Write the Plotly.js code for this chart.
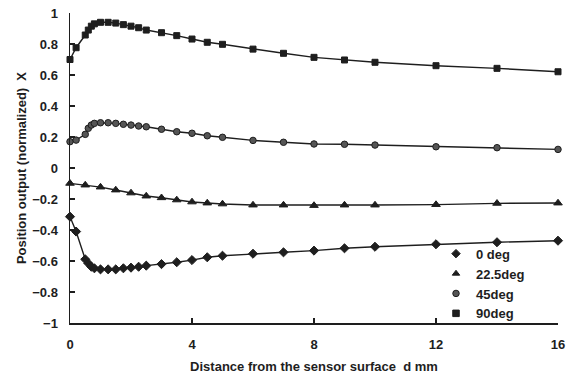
<!DOCTYPE html>
<html>
<head>
<meta charset="utf-8">
<script src="https://cdn.plot.ly/plotly-3.0.1.min.js"></script>
<style>html,body{margin:0;padding:0;background:#fff;}#chart{width:573px;height:382px;}</style>
</head>
<body>
<div id="chart"></div>
<script>
// Distance from the sensor surface (mm)
const dist = [0,0.2,0.5,0.6,0.7,0.8,1.0,1.25,1.5,1.75,2.0,2.25,2.5,3,3.5,4,4.5,5,6,7,8,9,10,12,14,16];
const distTri = [0,0.5,1,1.5,2,2.5,3,3.5,4,4.5,5,6,7,8,9,10,12,14,16];

// Position output (normalized) X
const deg0 = [-0.314,-0.41,-0.589,-0.615,-0.637,-0.647,-0.654,-0.654,-0.654,-0.647,-0.643,-0.637,-0.63,-0.62,-0.608,-0.594,-0.576,-0.566,-0.553,-0.544,-0.533,-0.518,-0.508,-0.492,-0.479,-0.469];
const deg22 = [-0.099,-0.11,-0.123,-0.142,-0.161,-0.181,-0.192,-0.206,-0.219,-0.226,-0.232,-0.239,-0.239,-0.242,-0.239,-0.239,-0.236,-0.228,-0.226];
const deg45 = [0.17,0.18,0.217,0.256,0.277,0.288,0.292,0.292,0.288,0.282,0.277,0.271,0.266,0.25,0.234,0.224,0.208,0.198,0.178,0.166,0.155,0.153,0.148,0.137,0.131,0.12];
const deg90 = [0.70,0.776,0.858,0.89,0.915,0.93,0.94,0.94,0.935,0.925,0.915,0.905,0.89,0.873,0.854,0.832,0.811,0.798,0.767,0.74,0.714,0.697,0.682,0.66,0.643,0.621];

const seriesNames = ['0 deg','22.5deg','45deg','90deg'];
const xTicks = [0,4,8,12,16];

const ink = '#1e1e1e';
const series = [
  {x: dist, y: deg0, sym: 'diamond', size: 7, fill: ink},
  {x: distTri, y: deg22, sym: 'triangle-up', size: 7.5, fill: ink},
  {x: dist, y: deg45, sym: 'circle', size: 6.5, fill: '#555'},
  {x: dist, y: deg90, sym: 'square', size: 6, fill: ink}
];

const traces = [];
series.forEach((s, i) => {
  traces.push({
    x: s.x, y: s.y, type: 'scatter', mode: 'lines+markers',
    line: {color: ink, width: 1.4},
    marker: {symbol: s.sym, size: s.size, color: s.fill, line: {color: ink, width: 1}},
    cliponaxis: false, showlegend: false, name: seriesNames[i]
  });
});
series.forEach((s, i) => {
  traces.push({
    x: [null], y: [null], type: 'scatter', mode: 'markers',
    marker: {symbol: s.sym, size: 6.5, color: s.fill, line: {color: ink, width: 1}},
    showlegend: true, name: seriesNames[i]
  });
});

const layout = {
  width: 573, height: 382,
  margin: {l: 70, r: 15, t: 13, b: 59},
  paper_bgcolor: '#fff', plot_bgcolor: '#fff',
  font: {family: 'Liberation Sans, Arial, sans-serif', color: ink, size: 13},
  showlegend: true,
  legend: {
    x: 0.75, y: 0.272, xanchor: 'left', yanchor: 'top',
    bgcolor: 'rgba(0,0,0,0)',
    font: {size: 13, family: 'Liberation Sans, Arial, sans-serif', weight: 'bold'},
    tracegroupgap: 0, itemwidth: 30
  },
  xaxis: {
    range: [0, 16], tickvals: xTicks, ticktext: xTicks.map(String),
    ticks: 'inside', ticklen: 5, tickwidth: 1.2, tickcolor: ink,
    showline: true, linecolor: ink, linewidth: 1.5,
    showgrid: false, zeroline: false,
    ticklabelstandoff: 9,
    tickfont: {size: 13, weight: 'bold'},
    title: {text: 'Distance from the sensor surface  d mm', font: {size: 13, weight: 'bold'}, standoff: 11}
  },
  yaxis: {
    range: [-1, 1], dtick: 0.2, tick0: 0,
    ticks: 'inside', ticklen: 5, tickwidth: 1.2, tickcolor: ink,
    showline: true, linecolor: ink, linewidth: 1.5,
    showgrid: false, zeroline: false,
    ticklabelstandoff: 8,
    tickfont: {size: 13, weight: 'bold'},
    title: {text: 'Position output (normalized)  X', font: {size: 13, weight: 'bold'}, standoff: 2}
  }
};

Plotly.newPlot('chart', traces, layout, {staticPlot: true, displayModeBar: false});
</script>
</body>
</html>
